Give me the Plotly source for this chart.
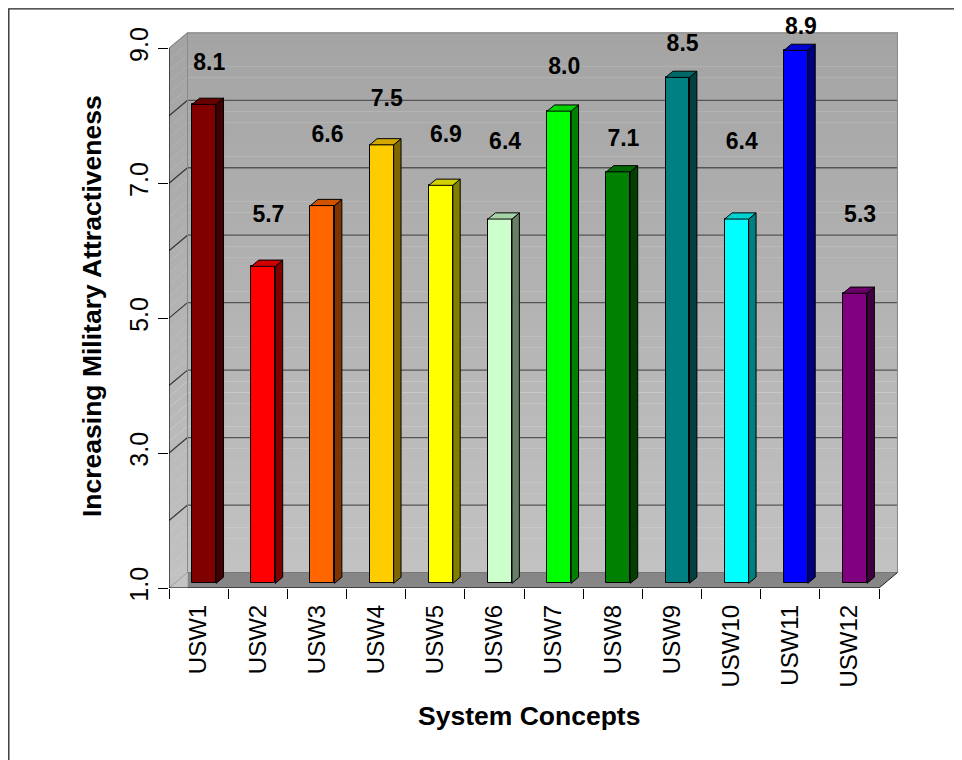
import plotly.graph_objects as go

# ---------------- data ----------------
categories = ["USW1", "USW2", "USW3", "USW4", "USW5", "USW6",
              "USW7", "USW8", "USW9", "USW10", "USW11", "USW12"]
values = [8.1, 5.7, 6.6, 7.5, 6.9, 6.4, 8.0, 7.1, 8.5, 6.4, 8.9, 5.3]
y_tick_values = [1, 3, 5, 7, 9]
y_tick_labels = ["1.0", "3.0", "5.0", "7.0", "9.0"]

# ---------------- styles ----------------
front_colors = ["#800000", "#FF0000", "#FF6600", "#FFCC00", "#FFFF00", "#CCFFCC",
                "#00FF00", "#008000", "#008080", "#00FFFF", "#0000FF", "#800080"]
# vertical offset of each value label above its bar (axis units)
label_offsets = [0.67, 0.81, 1.10, 0.73, 0.80, 1.20, 0.71, 0.54, 0.55, 1.20, 0.40, 1.21]

FONT = "Arial, Liberation Sans, sans-serif"
PAGE_OFF = 8                      # default body margin of the page
W, H = 962 - PAGE_OFF, 760 - PAGE_OFF
ML, MR, MT, MB = 169 - PAGE_OFF, 64, 12 - PAGE_OFF, 172
PW, PH = W - ML - MR, H - MT - MB
CAT_PX, UNIT_PX = 59.17, 67.46
XMIN, YMIN = -0.5, 1.0
XMAX = XMIN + PW / CAT_PX
YMAX = YMIN + PH / UNIT_PX
DX, DY = 18.5 / CAT_PX, 15.5 / UNIT_PX      # full depth of the 3-D box
F0, F1 = 0.30, 0.70                          # bar front / back depth fraction
BAR_W = 0.405
N = len(categories)
VTOP = 9.0


def px_x(page_x):
    return (page_x - PAGE_OFF - ML) / PW


def px_y(page_y):
    return (MT + PH - (page_y - PAGE_OFF)) / PH


def shade(hexc, k):
    h = hexc.lstrip("#")
    r, g, b = (int(h[i:i + 2], 16) for i in (0, 2, 4))
    return "#%02X%02X%02X" % (int(r * k), int(g * k), int(b * k))


def wall_color(v):
    t = (v - YMIN) / (VTOP - YMIN)
    c = int(round(0xC2 + (0xA4 - 0xC2) * t))
    return "#%02X%02X%02X" % (c, c, c)


shapes = []
# gradient back wall + side wall
NB = 48
for i in range(NB):
    a = YMIN + (VTOP - YMIN) * i / NB
    b = YMIN + (VTOP - YMIN) * (i + 1) / NB
    col = wall_color((a + b) / 2)
    shapes.append(dict(type="rect", xref="x", yref="y", layer="below",
                       x0=XMIN + DX, x1=N - 0.5 + DX, y0=a + DY, y1=b + DY + 0.003,
                       fillcolor=col, line=dict(width=0)))
    shapes.append(dict(type="path", xref="x", yref="y", layer="below",
                       path=f"M {XMIN},{a} L {XMIN+DX},{a+DY} L {XMIN+DX},{b+DY+0.003} L {XMIN},{b+0.003} Z",
                       fillcolor=col, line=dict(width=0)))
# floor
shapes.append(dict(type="path", xref="x", yref="y", layer="below",
                   path=f"M {XMIN},{YMIN} L {XMIN+DX},{YMIN} L {XMIN+DX},{YMIN+DY} Z",
                   fillcolor="#C4C4C4", line=dict(width=0)))
shapes.append(dict(type="path", xref="x", yref="y", layer="below",
                   path=f"M {XMIN+DX},{YMIN} L {N-0.5},{YMIN} L {N-0.5+DX},{YMIN+DY} L {XMIN+DX},{YMIN+DY} Z",
                   fillcolor="#868686", line=dict(width=0)))
# gridlines
for v in range(2, 9):
    shapes.append(dict(type="line", xref="x", yref="y", layer="below",
                       x0=XMIN + DX, x1=N - 0.5 + DX, y0=v + DY, y1=v + DY,
                       line=dict(color="#555555", width=1.3)))
    shapes.append(dict(type="line", xref="x", yref="y", layer="below",
                       x0=XMIN, x1=XMIN + DX, y0=v, y1=v + DY,
                       line=dict(color="#333333", width=1.2)))
# wall outlines
shapes.append(dict(type="path", xref="x", yref="y", layer="below",
                   path=f"M {XMIN},{VTOP} L {XMIN+DX},{VTOP+DY} L {N-0.5+DX},{VTOP+DY} L {N-0.5+DX},{YMIN+DY}",
                   line=dict(color="#8A8A8A", width=1.2)))
shapes.append(dict(type="line", xref="x", yref="y", layer="below",
                   x0=XMIN + DX, x1=XMIN + DX, y0=YMIN + DY, y1=VTOP + DY,
                   line=dict(color="#8A8A8A", width=1)))
shapes.append(dict(type="line", xref="x", yref="y", layer="below",
                   x0=XMIN + DX, x1=N - 0.5 + DX, y0=YMIN + DY, y1=YMIN + DY,
                   line=dict(color="#777777", width=1)))
shapes.append(dict(type="line", xref="x", yref="y", layer="below",
                   x0=XMIN, x1=XMIN + DX, y0=YMIN, y1=YMIN + DY,
                   line=dict(color="#999999", width=1)))
shapes.append(dict(type="line", xref="x", yref="y", layer="below",
                   x0=N - 0.5, x1=N - 0.5 + DX, y0=YMIN, y1=YMIN + DY,
                   line=dict(color="#222222", width=1)))
# axis lines (front plane)
shapes.append(dict(type="line", xref="x", yref="y", layer="above",
                   x0=XMIN, x1=XMIN, y0=YMIN, y1=VTOP, line=dict(color="black", width=1.2)))
shapes.append(dict(type="line", xref="x", yref="y", layer="above",
                   x0=XMIN, x1=N - 0.5, y0=YMIN, y1=YMIN, line=dict(color="black", width=1.2)))
# outer chart border (top and left edges of the figure)
shapes.append(dict(type="rect", xref="paper", yref="paper", layer="above",
                   x0=px_x(PAGE_OFF + 0.8), x1=px_x(990),
                   y0=px_y(790), y1=px_y(PAGE_OFF + 0.8),
                   line=dict(color="#222222", width=1.3), fillcolor="rgba(0,0,0,0)"))

fig = go.Figure()

idx = list(range(N))
# front faces: real bars
fig.add_trace(go.Bar(
    x=[i + F0 * DX for i in idx],
    y=[v - YMIN for v in values],
    base=[YMIN + F0 * DY] * N,
    width=BAR_W,
    marker=dict(color=front_colors, line=dict(color="black", width=1)),
    hoverinfo="skip", showlegend=False))

# side and top faces
for i, v in enumerate(values):
    xl = i + F0 * DX - BAR_W / 2
    xr = i + F0 * DX + BAR_W / 2
    ddx = (F1 - F0) * DX
    y0f, y0b = YMIN + F0 * DY, YMIN + F1 * DY
    ytf, ytb = v + F0 * DY, v + F1 * DY
    fig.add_trace(go.Scatter(
        x=[xr, xr + ddx, xr + ddx, xr, xr], y=[y0f, y0b, ytb, ytf, y0f],
        mode="lines", fill="toself", fillcolor=shade(front_colors[i], 0.5),
        line=dict(color="black", width=1), hoverinfo="skip", showlegend=False))
    fig.add_trace(go.Scatter(
        x=[xl, xr, xr + ddx, xl + ddx, xl], y=[ytf, ytf, ytb, ytb, ytf],
        mode="lines", fill="toself", fillcolor=shade(front_colors[i], 0.82),
        line=dict(color="black", width=1), hoverinfo="skip", showlegend=False))

# value labels
fig.add_trace(go.Scatter(
    x=[i + 0.18 for i in idx],
    y=[v + o for v, o in zip(values, label_offsets)],
    text=[f"{v:.1f}" for v in values],
    mode="text", textposition="middle center", cliponaxis=False,
    textfont=dict(family=FONT, size=23, color="black", weight="bold"),
    hoverinfo="skip", showlegend=False))

fig.update_layout(
    width=W, height=H,
    margin=dict(l=ML, r=MR, t=MT, b=MB, pad=0),
    paper_bgcolor="white", plot_bgcolor="white",
    shapes=shapes, barmode="overlay", bargap=0,
    font=dict(family=FONT, color="black"),
    xaxis=dict(range=[XMIN, XMAX], tickmode="array", tickvals=idx, ticktext=categories,
               tickangle=-90, ticks="", showgrid=False, zeroline=False, showline=False,
               ticklabelstandoff=11,
               tickfont=dict(family=FONT, size=24, color="black"),
               minor=dict(tickmode="array", tickvals=[i - 0.5 for i in range(N + 1)],
                          ticks="outside", ticklen=10, tickwidth=1.2, tickcolor="black",
                          showgrid=False)),
    yaxis=dict(range=[YMIN, YMAX], tickmode="array", tickvals=y_tick_values,
               ticktext=y_tick_labels, tickangle=-90, ticks="outside", ticklen=10,
               tickwidth=1.2, tickcolor="black", showgrid=False, zeroline=False,
               showline=False, tickfont=dict(family=FONT, size=25, color="black")),
    annotations=[
        dict(text="<b>Increasing Military Attractiveness</b>", xref="paper", yref="paper",
             x=px_x(92), y=px_y(306), textangle=-90, showarrow=False,
             xanchor="center", yanchor="middle", font=dict(family=FONT, size=26.5, color="black")),
        dict(text="<b>System Concepts</b>", xref="paper", yref="paper",
             x=px_x(529), y=px_y(716), showarrow=False,
             xanchor="center", yanchor="middle", font=dict(family=FONT, size=26.5, color="black")),
    ],
)

fig.write_html("out.html")
